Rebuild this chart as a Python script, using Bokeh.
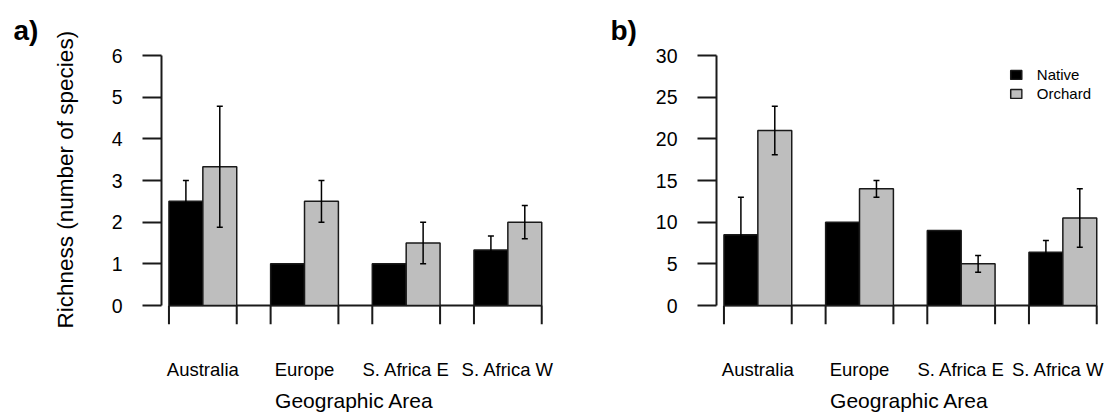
from bokeh.plotting import figure
from bokeh.models import (Range1d, FixedTicker, LinearAxis, Legend, LegendItem,
                          Whisker, TeeHead, ColumnDataSource, Title)
from bokeh.layouts import row
from bokeh.embed import file_html
from bokeh.resources import INLINE

# ---------------- data ----------------
areas = ["Australia", "Europe", "S. Africa E", "S. Africa W"]

native_a = [2.5, 1.0, 1.0, 1.33]
native_a_se = [0.5, 0.0, 0.0, 0.34]
orchard_a = [3.33, 2.5, 1.5, 2.0]
orchard_a_se = [1.45, 0.5, 0.5, 0.4]

native_b = [8.5, 10.0, 9.0, 6.4]
native_b_se = [4.5, 0.0, 0.0, 1.4]
orchard_b = [21.0, 14.0, 5.0, 10.5]
orchard_b_se = [2.9, 1.0, 1.0, 3.5]

y_ticks_a = [0, 1, 2, 3, 4, 5, 6]
y_ticks_b = [0, 5, 10, 15, 20, 25, 30]

FONT = "Liberation Sans"
GREY = "#bebebe"
LINE = "#1a1a1a"

PLOT_H = 250      # pixel height of the 0..max part of the frame
TICK_LEN = 19     # length of the outward axis ticks


def panel(tag, native, native_se, orchard, orchard_se, yticks, ylabel,
          border_left, border_right, legend=False, title_offset=0):
    n = len(areas)
    # R barplot(beside=TRUE, space=c(0,1)): bars are one unit wide, one unit gap
    xn = [3 * i + 1.5 for i in range(n)]
    xo = [3 * i + 2.5 for i in range(n)]
    centers = [3 * i + 2 for i in range(n)]
    edges = []
    for i in range(n):
        edges += [3 * i + 1, 3 * i + 3]

    ymax = yticks[-1]
    below = TICK_LEN * ymax / PLOT_H   # room under 0 for the group-edge ticks

    p = figure(frame_width=386, frame_height=PLOT_H + TICK_LEN,
               min_border_left=border_left, min_border_right=border_right,
               min_border_top=55, min_border_bottom=90,
               x_range=Range1d(0.78, 12.17),
               y_range=Range1d(-below, ymax),
               output_backend="svg", toolbar_location=None,
               x_axis_location=None, y_axis_location=None)
    p.xgrid.visible = False
    p.ygrid.visible = False
    p.outline_line_color = None
    p.background_fill_color = "white"
    p.border_fill_color = "white"

    # x axis line and group-edge ticks (R: axis(1, at=edges, labels=FALSE))
    p.segment(x0=[edges[0]], y0=[0], x1=[edges[-1]], y1=[0],
              line_color=LINE, line_width=2)
    p.segment(x0=edges, y0=[0] * len(edges), x1=edges, y1=[-below] * len(edges),
              line_color=LINE, line_width=2)

    src_n = ColumnDataSource(dict(x=xn, top=native,
                                  upper=[v + s for v, s in zip(native, native_se)],
                                  lower=[v - s for v, s in zip(native, native_se)]))
    src_o = ColumnDataSource(dict(x=xo, top=orchard,
                                  upper=[v + s for v, s in zip(orchard, orchard_se)],
                                  lower=[v - s for v, s in zip(orchard, orchard_se)]))

    rn = p.vbar(x="x", top="top", bottom=0, width=1.0, source=src_n,
                fill_color="black", line_color=LINE, line_width=1.5)
    ro = p.vbar(x="x", top="top", bottom=0, width=1.0, source=src_o,
                fill_color=GREY, line_color=LINE, line_width=1.5)

    # error bars (only where an error exists)
    for src, se in ((src_n, native_se), (src_o, orchard_se)):
        keep = [i for i, s in enumerate(se) if s > 0]
        d = {k: [src.data[k][i] for i in keep] for k in ("x", "upper", "lower")}
        w = Whisker(base="x", upper="upper", lower="lower",
                    source=ColumnDataSource(d), level="overlay",
                    line_color="black", line_width=1.5,
                    upper_head=TeeHead(size=6, line_width=1.5, line_color="black"),
                    lower_head=TeeHead(size=6, line_width=1.5, line_color="black"))
        p.add_layout(w)

    # y axis
    ya = LinearAxis(ticker=FixedTicker(ticks=yticks), bounds=(yticks[0], ymax))
    ya.axis_line_width = 2
    ya.axis_line_color = LINE
    ya.major_tick_line_width = 2
    ya.major_tick_line_color = LINE
    ya.major_tick_out = TICK_LEN
    ya.major_tick_in = 0
    ya.minor_tick_line_color = None
    ya.major_label_standoff = 20
    ya.major_label_text_font = FONT
    ya.major_label_text_font_size = "19.5px"
    ya.major_label_text_color = "black"
    p.add_layout(ya, "left")
    if ylabel:
        yt = Title(text=ylabel, text_font=FONT, text_font_size="22.5px",
                   text_font_style="normal", text_color="black",
                   align="left", offset=-4, standoff=62)
        p.add_layout(yt, "left")

    # x axis: category labels + title
    xl = LinearAxis(ticker=FixedTicker(ticks=centers),
                    major_label_overrides={c: a for c, a in zip(centers, areas)})
    xl.axis_line_color = None
    xl.major_tick_line_color = None
    xl.minor_tick_line_color = None
    xl.major_tick_out = 0
    xl.major_tick_in = 0
    xl.major_label_standoff = 34
    xl.major_label_text_font = FONT
    xl.major_label_text_font_size = "18.5px"
    xl.major_label_text_color = "black"
    xl.axis_label = "Geographic Area"
    xl.axis_label_text_font = FONT
    xl.axis_label_text_font_size = "21px"
    xl.axis_label_text_font_style = "normal"
    xl.axis_label_text_color = "black"
    xl.axis_label_standoff = 6
    p.add_layout(xl, "below")

    t = Title(text=tag, text_font=FONT, text_font_size="28px",
              text_font_style="bold", text_color="black", align="left",
              offset=title_offset, standoff=20)
    p.add_layout(t, "above")

    if legend:
        lg = Legend(items=[LegendItem(label="Native", renderers=[rn]),
                           LegendItem(label="Orchard", renderers=[ro])],
                    location="top_right", margin=11, padding=0, spacing=2,
                    glyph_width=14, glyph_height=11, label_standoff=14,
                    label_height=11, label_text_font=FONT,
                    label_text_font_size="15px", label_text_color="black",
                    border_line_color=None, background_fill_alpha=0)
        p.add_layout(lg)
    return p


pa = panel("a)", native_a, native_a_se, orchard_a, orchard_a_se, y_ticks_a,
           "Richness (number of species)", 161, 9, title_offset=-148)
pb = panel("b)", native_b, native_b_se, orchard_b, orchard_b_se, y_ticks_b,
           None, 160, 2, legend=True, title_offset=-106)

layout = row(pa, pb)
open("out.html", "w").write(file_html(layout, INLINE))
